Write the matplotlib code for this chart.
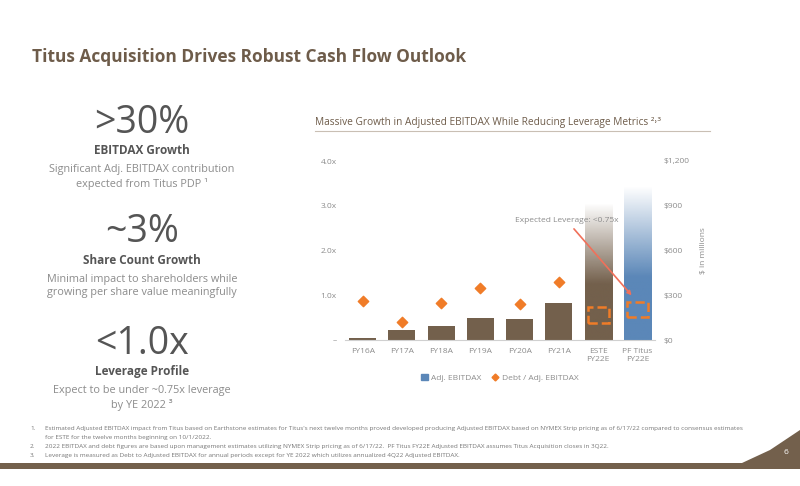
import matplotlib.pyplot as plt
import numpy as np
from matplotlib.patches import Rectangle, Polygon
from matplotlib.lines import Line2D

categories = ["FY16A", "FY17A", "FY18A", "FY19A", "FY20A", "FY21A", "ESTE\nFY22E", "PF Titus\nFY22E"]
ebitdax = [15, 65, 96, 147, 143, 248, 916, 1030]          # $ millions
leverage = [0.88, 0.41, 0.82, 1.16, 0.80, 1.29]          # Debt / Adj. EBITDAX
left_ticks = ["–", "1.0x", "2.0x", "3.0x", "4.0x"]
right_ticks = ["$0", "$300", "$600", "$900", "$1,200"]

BROWN = "#73604c"
BLUE = "#5b87b8"
ORANGE = "#f07c28"
GRAY = "#8c8c8c"
TITLE = "#6e5c4a"

plt.rcParams["font.family"] = ["Open Sans", "DejaVu Sans"]
fig = plt.figure(figsize=(8, 4.86), dpi=100)

fig.text(32 / 800, 1 - 57 / 486, "Titus Acquisition Drives Robust Cash Flow Outlook",
         fontsize=12.5, fontweight="bold", color=TITLE, va="center")

# left panel
blocks = [
    (123, ">30%", "EBITDAX Growth", "Significant Adj. EBITDAX contribution\nexpected from Titus PDP ¹"),
    (232, "~3%", "Share Count Growth", "Minimal impact to shareholders while\ngrowing per share value meaningfully"),
    (344, "<1.0x", "Leverage Profile", "Expect to be under ~0.75x leverage\nby YE 2022 ³"),
]
for y, big, head, body in blocks:
    fig.text(142 / 800, 1 - y / 486, big, fontsize=27, color="#555555", ha="center", va="center")
    fig.text(142 / 800, 1 - (y + 28) / 486, head, fontsize=8.5, fontweight="bold", color="#555555", ha="center", va="center")
    fig.text(142 / 800, 1 - (y + 54) / 486, body, fontsize=7.8, color=GRAY, ha="center", va="center", linespacing=1.3)

# chart subtitle
fig.text(315 / 800, 1 - 123 / 486, "Massive Growth in Adjusted EBITDAX While Reducing Leverage Metrics ²˒³",
         fontsize=7.3, color=TITLE, va="center")
fig.add_artist(Line2D([315 / 800, 710 / 800], [1 - 131 / 486] * 2, color="#c9bfb4", lw=0.8))

ax = fig.add_axes([345 / 800, 1 - 340 / 486, 310 / 800, 179 / 486])
ax2 = ax.twinx()
x = np.arange(len(categories))
colors = [BROWN] * 7 + [BLUE]
bars = ax2.bar(x, ebitdax, width=0.69, color=colors, zorder=1)

# fade tops of the two FY22E bars
for i in (6, 7):
    b = bars[i]
    b.set_alpha(0)
    rgb = np.array(plt.matplotlib.colors.to_rgb(colors[i]))
    n = 256
    alpha = np.clip(np.linspace(0, 1.7, n), 0, 1)  # row 0 (top) transparent
    img = np.zeros((n, 1, 4))
    img[:, 0, :3] = rgb
    img[:, 0, 3] = alpha
    im = ax2.imshow(img, extent=[b.get_x(), b.get_x() + b.get_width(), 0, b.get_height()],
                    aspect="auto", zorder=1, origin="upper")
    im.set_clip_path(Rectangle((b.get_x(), 0), b.get_width(), b.get_height(), transform=ax2.transData))
ax2.set_xlim(-0.45, len(categories) - 0.55)
ax2.set_ylim(0, 1200)
ax.set_ylim(0, 4)
ax.set_xlim(-0.45, len(categories) - 0.55)

ax.set_zorder(ax2.get_zorder() + 1)
ax.patch.set_visible(False)
ax.scatter(x[:len(leverage)], leverage, marker="D", s=28, color=ORANGE, zorder=3, label="Debt / Adj. EBITDAX")

# dashed leverage boxes
for xi, lo, hi in [(6, 0.39, 0.73), (7, 0.51, 0.86)]:
    ax.add_patch(Rectangle((xi - 0.27, lo), 0.54, hi - lo, fill=False, ec=ORANGE, ls="--", lw=1.8, zorder=4))
ax.annotate("Expected Leverage: <0.75x", xy=(6.9, 0.95), xytext=(5.2, 2.67),
            fontsize=6, color=GRAY, ha="center", va="center",
            arrowprops=dict(arrowstyle="-|>", color="#f0705a", lw=1.2))

ax.set_yticks([0, 1, 2, 3, 4])
ax.set_yticklabels(left_ticks)
ax2.set_yticks([0, 300, 600, 900, 1200])
ax2.set_yticklabels(right_ticks)
ax.set_xticks(x)
ax.set_xticklabels(categories)
for a in (ax, ax2):
    for s in a.spines.values():
        s.set_visible(False)
    a.tick_params(length=0, labelsize=6, colors=GRAY, pad=6)
ax.spines["bottom"].set_visible(True)
ax.spines["bottom"].set_color("#d0d0d0")
ax2.set_ylabel("$ in millions", fontsize=6, color=GRAY, labelpad=8)

handles = [Rectangle((0, 0), 1, 1, color=BLUE),
           Line2D([], [], marker="D", ls="none", color=ORANGE, markersize=3.5)]
fig.legend(handles, ["Adj. EBITDAX", "Debt / Adj. EBITDAX"], loc="center", bbox_to_anchor=(500 / 800, 1 - 378 / 486),
           ncol=2, frameon=False, fontsize=6, labelcolor=GRAY, handlelength=0.8, handleheight=0.8,
           handletextpad=0.4, columnspacing=1.2)

# footnotes
notes = [
    (428, "1.", "Estimated Adjusted EBITDAX impact from Titus based on Earthstone estimates for Titus's next twelve months proved developed producing Adjusted EBITDAX based on NYMEX Strip pricing as of 6/17/22 compared to consensus estimates"),
    (437, "", "for ESTE for the twelve months beginning on 10/1/2022."),
    (446, "2.", "2022 EBITDAX and debt figures are based upon management estimates utilizing NYMEX Strip pricing as of 6/17/22.  PF Titus FY22E Adjusted EBITDAX assumes Titus Acquisition closes in 3Q22."),
    (455, "3.", "Leverage is measured as Debt to Adjusted EBITDAX for annual periods except for YE 2022 which utilizes annualized 4Q22 Adjusted EBITDAX."),
]
for y, num, t in notes:
    if num:
        fig.text(30 / 800, 1 - y / 486, num, fontsize=4.6, color="#777777", va="center")
    fig.text(45 / 800, 1 - y / 486, t, fontsize=4.6, color="#777777", va="center")

# bottom band
fig.add_artist(Rectangle((0, 1 - 469 / 486), 1, 6 / 486, transform=fig.transFigure, color=BROWN, lw=0))
fig.add_artist(Polygon([[742 / 800, 1 - 463 / 486], [770 / 800, 1 - 450 / 486], [800 / 800, 1 - 430 / 486],
                        [800 / 800, 1 - 463 / 486]], closed=True, transform=fig.transFigure, color=BROWN, lw=0))
fig.text(786 / 800, 1 - 452 / 486, "6", fontsize=6, color="white", ha="center", va="center")

fig.savefig("out.png", dpi=100)
